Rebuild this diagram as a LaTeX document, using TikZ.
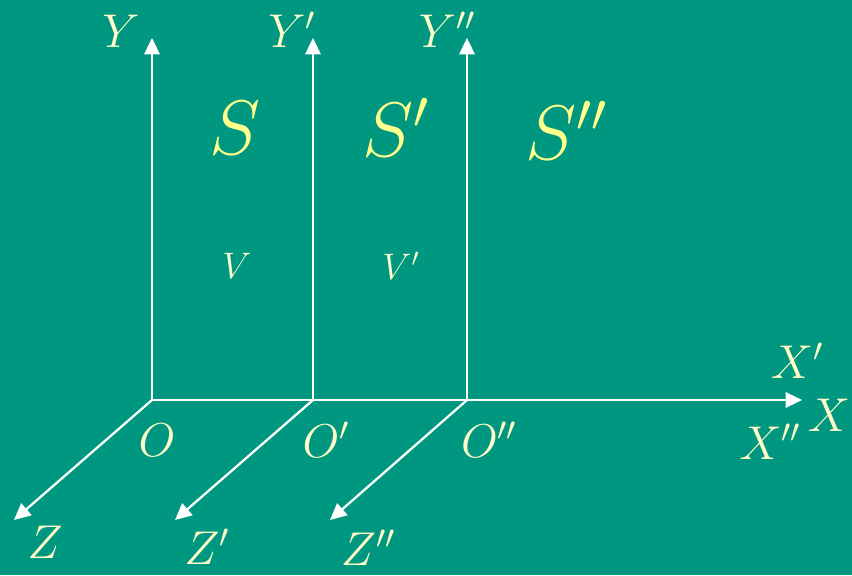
\documentclass[tikz,border=0pt]{standalone}
\usepackage{fix-cm}
\usetikzlibrary{arrows.meta}
\definecolor{boardgreen}{RGB}{0,151,128}
\definecolor{chalkcream}{RGB}{255,250,200}
\definecolor{chalkyellow}{RGB}{255,255,140}
\tikzset{
  axis/.style={draw=white, line width=1.3pt, -{Triangle[length=0.33cm, width=0.31cm]}},
  plain axis/.style={draw=white, line width=1.3pt},
  axlabel/.style={text=chalkcream, font=\fontsize{27}{30}\selectfont, inner sep=0pt},
  framelabel/.style={text=chalkyellow, font=\fontsize{44}{48}\selectfont, inner sep=0pt},
  velabel/.style={text=chalkcream, font=\fontsize{21}{24}\selectfont, inner sep=0pt}
}
\begin{document}
\begin{tikzpicture}[x=0.02cm, y=-0.02cm]
  \fill[boardgreen] (0,0) rectangle (852,575);
  \useasboundingbox (0,0) rectangle (852,575);
  % origins and axis ends
  \coordinate (o1) at (152,400);
  \coordinate (o2) at (313,400);
  \coordinate (o3) at (467,400);
  \coordinate (y1) at (152,38);
  \coordinate (y2) at (313,38);
  \coordinate (y3) at (467,38);
  \coordinate (xend) at (802,400);
  \coordinate (z1) at (14,520);
  \coordinate (z2) at (175,520);
  \coordinate (z3) at (330,520);
  % axes
  \draw[plain axis] (o1) -- (o2);
  \draw[plain axis] (o2) -- (o3);
  \draw[axis] (o3) -- (xend);
  \draw[axis] (o1) -- (y1);
  \draw[axis] (o2) -- (y2);
  \draw[axis] (o3) -- (y3);
  \draw[axis] (o1) -- (z1);
  \draw[axis] (o2) -- (z2);
  \draw[axis] (o3) -- (z3);
  % labels
  \node[axlabel] (ly1) at (121,31) {$Y$};
  \node[axlabel] (ly2) at (292,30) {$Y'$};
  \node[axlabel] (ly3) at (447,30) {$Y''$};
  \node[framelabel] (s1) at (235,128) {$S$};
  \node[framelabel] (s2) at (396,127) {$S'$};
  \node[framelabel] (s3) at (566,130) {$S''$};
  \node[velabel] (v1) at (237,266) {$V$};
  \node[velabel] (v2) at (401,266) {$V'$};
  \node[axlabel] (lo1) at (157,440) {$O$};
  \node[axlabel] (lo2) at (326,440) {$O'$};
  \node[axlabel] (lo3) at (489,440) {$O''$};
  \node[axlabel] (lx2) at (797,361) {$X'$};
  \node[axlabel] (lx1) at (829,415) {$X$};
  \node[axlabel] (lx3) at (770,442) {$X''$};
  \node[axlabel] (lz1) at (45,542) {$Z$};
  \node[axlabel] (lz2) at (207,547) {$Z'$};
  \node[axlabel] (lz3) at (368,548) {$Z''$};
\end{tikzpicture}
\end{document}
